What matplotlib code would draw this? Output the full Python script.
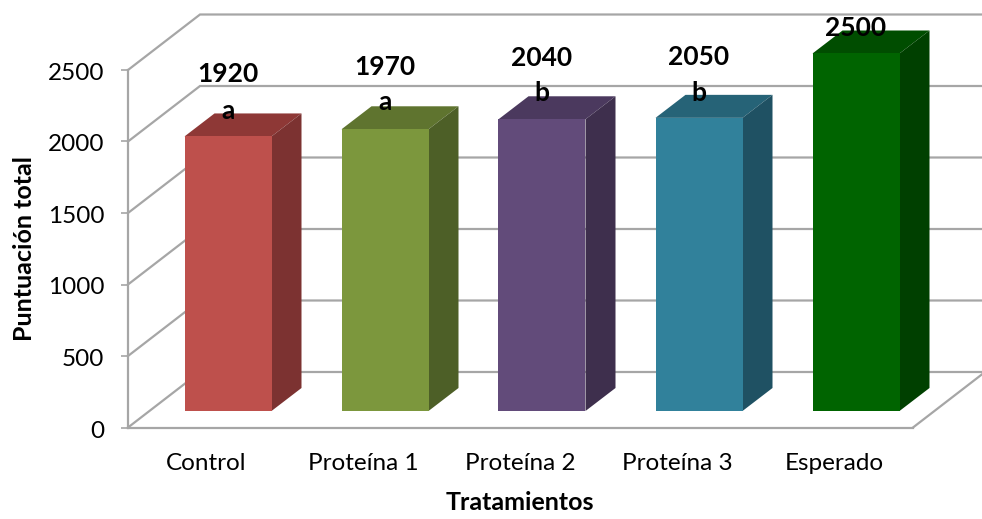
import numpy as np
import matplotlib
matplotlib.use("Agg")
import matplotlib.pyplot as plt
from matplotlib.transforms import ScaledTranslation

plt.rcParams["font.family"] = ["Lato", "DejaVu Sans"]

categories = ["Control", "Proteína 1", "Proteína 2", "Proteína 3", "Esperado"]
values = [1920, 1970, 2040, 2050, 2500]
letters = ["a", "a", "b", "b", ""]
y_ticks = [0, 500, 1000, 1500, 2000, 2500]

front_colors = ["#BE504C", "#7C973D", "#624B7A", "#31819B", "#006400"]
top_colors = ["#8E3836", "#5F742F", "#4B395E", "#266377", "#004D00"]
side_colors = ["#7C3231", "#4D5F27", "#3E2F4D", "#1F5163", "#004000"]

# label lift above the bar top, pixels
value_lift = [62, 62, 61, 61, 25]
letter_lift = [25, 27, 26, 25, 0]

W, H = 982, 519
LEFT, RIGHT, BOTTOM, TOP = 128, 913, 427.5, 70
GREY = "#A6A6A6"

fig = plt.figure(figsize=(W / 100, H / 100), dpi=100)
ax = fig.add_axes([LEFT / W, 1 - BOTTOM / H, (RIGHT - LEFT) / W, (BOTTOM - TOP) / H])
ax.set_xlim(-0.5, 4.5)
ax.set_ylim(0, 2500)

x_per_px = 5 / (RIGHT - LEFT)
y_per_px = 2500 / (BOTTOM - TOP)

# 3d look: wall depth, bar depth and where the bars stand on the floor
wall_dx, wall_dy = 72 * x_per_px, 55.5 * y_per_px
bar_dx, bar_dy = 30 * x_per_px, 23 * y_per_px
floor_dx, floor_dy = 21.5 * x_per_px, 16.5 * y_per_px
bar_w = 87 * x_per_px

# walls
for t in y_ticks:
    ax.plot([-0.5, -0.5 + wall_dx, 4.5 + wall_dx], [t, t + wall_dy, t + wall_dy],
            color=GREY, lw=1.6, clip_on=False, zorder=1, solid_joinstyle="miter")
ax.plot([4.5, 4.5 + wall_dx], [0, wall_dy], color=GREY, lw=1.6, clip_on=False, zorder=1)

x = np.arange(len(values))
for i, v in enumerate(values):
    x0 = x[i] + floor_dx - bar_w / 2
    y0 = floor_dy
    x1 = x0 + bar_w
    top = y0 + v
    ax.bar(x0, v, width=bar_w, bottom=y0, align="edge", color=front_colors[i],
           linewidth=0, clip_on=False, zorder=3)
    ax.fill([x0, x1, x1 + bar_dx, x0 + bar_dx], [top, top, top + bar_dy, top + bar_dy],
            color=top_colors[i], lw=0, clip_on=False, zorder=2.5)
    ax.fill([x1, x1 + bar_dx, x1 + bar_dx, x1], [y0, y0 + bar_dy, top + bar_dy, top],
            color=side_colors[i], lw=0, clip_on=False, zorder=2.5)

    cx = x[i] + floor_dx
    ax.annotate(str(v), (cx, top), xytext=(0, value_lift[i]), textcoords="offset pixels",
                ha="center", va="center", fontsize=19, fontweight="bold",
                annotation_clip=False, zorder=5)
    if letters[i]:
        ax.annotate(letters[i], (cx, top), xytext=(0, letter_lift[i]), textcoords="offset pixels",
                    ha="center", va="center", fontsize=19, fontweight="bold",
                    annotation_clip=False, zorder=5)

for s in ["top", "right"]:
    ax.spines[s].set_visible(False)
for s in ["left", "bottom"]:
    ax.spines[s].set_color(GREY)
    ax.spines[s].set_linewidth(1.6)
    ax.spines[s].set_zorder(2)

ax.patch.set_alpha(0)
ax.set_yticks(y_ticks)
ax.tick_params(axis="y", length=5, width=1.2, color=GREY, labelsize=17.5, pad=12)
nudge = ScaledTranslation(0, -1.5 / 100, fig.dpi_scale_trans)
for lab in ax.get_yticklabels():
    lab.set_transform(lab.get_transform() + nudge)
ax.set_xticks(x)
ax.set_xticklabels(categories)
ax.tick_params(axis="x", length=0, labelsize=17.5, pad=18)

fig.text(25 / W, 1 - 249 / H, "Puntuación total", rotation=90, ha="center", va="center",
         fontsize=18, fontweight="bold")
fig.text(520 / W, 1 - 503 / H, "Tratamientos", ha="center", va="center",
         fontsize=18, fontweight="bold")

fig.savefig("out.png", dpi=100)
